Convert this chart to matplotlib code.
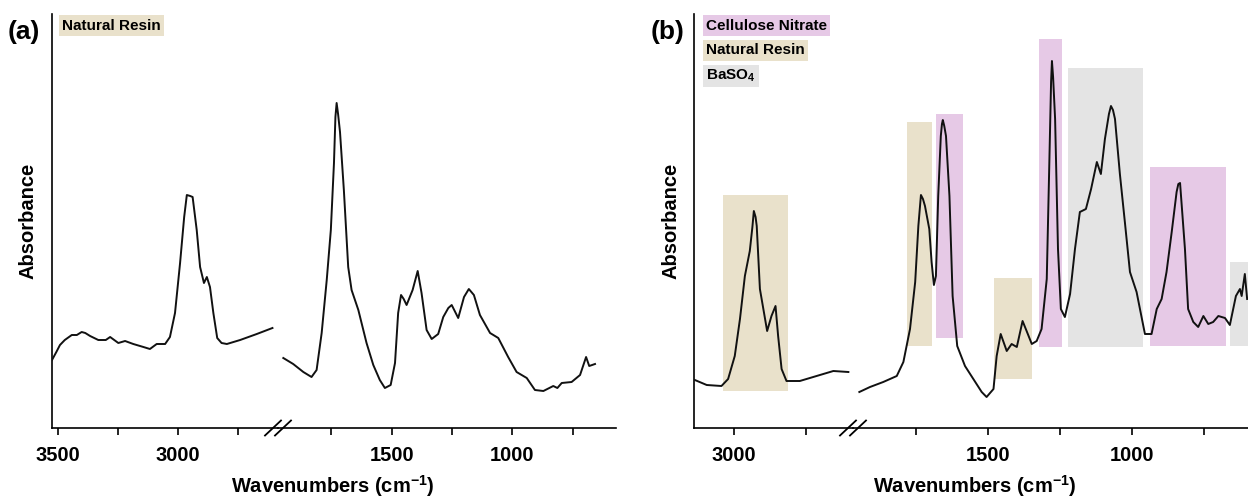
import numpy as np
import matplotlib
matplotlib.use("Agg")
import matplotlib.pyplot as plt
from matplotlib.patches import Rectangle
from matplotlib.ticker import MultipleLocator, NullLocator
from matplotlib.transforms import ScaledTranslation

plt.rcParams['font.family'] = ['Liberation Sans', 'DejaVu Sans']
plt.rcParams['font.weight'] = 'bold'
plt.rcParams['mathtext.fontset'] = 'custom'
plt.rcParams['mathtext.rm'] = 'Liberation Sans:bold'
plt.rcParams['mathtext.bf'] = 'Liberation Sans:bold'
plt.rcParams['mathtext.default'] = 'bf'

# ---- panel (a) spectrum (natural resin), absorbance in arbitrary units
a_wn_hi = [3523, 3505, 3490, 3470, 3441, 3420, 3400, 3385, 3365, 3331, 3300, 3282, 3248,
           3220, 3186, 3144, 3117, 3089, 3054, 3034, 3013, 2992, 2975, 2964, 2950, 2940,
           2923, 2909, 2893, 2881, 2868, 2854, 2838, 2820, 2798, 2743, 2674, 2609]
a_ab_hi = [72, 80, 87, 92, 97, 97, 100, 99, 96, 92, 92, 95, 89,
           91, 88, 85, 83, 88, 88, 95, 119, 169, 215, 237, 236, 235,
           202, 165, 149, 155, 145, 119, 94, 89, 88, 92, 98, 104]
a_wn_lo = [1949, 1908, 1866, 1832, 1811, 1790, 1769, 1752, 1739, 1733, 1728, 1722, 1714,
           1698, 1680, 1666, 1638, 1604, 1576, 1549, 1528, 1504, 1486, 1473, 1461, 1450,
           1438, 1413, 1392, 1376, 1355, 1334, 1307, 1286, 1265, 1251, 1224, 1200, 1180,
           1159, 1134, 1092, 1058, 1017, 982, 940, 906, 871, 830, 813, 795, 754, 719,
           694, 681, 657]
a_ab_lo = [74, 68, 60, 55, 62, 99, 152, 202, 269, 315, 329, 318, 300,
           242, 165, 142, 122, 89, 67, 52, 44, 47, 69, 119, 137, 133,
           127, 142, 161, 139, 102, 93, 98, 115, 124, 127, 114, 135, 143,
           137, 117, 99, 94, 75, 60, 54, 42, 41, 46, 44, 49, 50, 57,
           75, 66, 68]

# ---- panel (b) spectrum
b_wn_hi = [3135, 3094, 3043, 3020, 2997, 2979, 2962, 2945, 2936, 2931, 2925, 2921, 2910,
           2885, 2870, 2856, 2847, 2835, 2818, 2772, 2714, 2656, 2604]
b_ab_hi = [52, 47, 46, 53, 76, 113, 156, 181, 205, 221, 215, 206, 143,
           101, 116, 126, 96, 63, 51, 51, 56, 61, 60]
b_wn_lo = [1947, 1910, 1864, 1817, 1794, 1771, 1753, 1742, 1733, 1726, 1719, 1704, 1696,
           1688, 1681, 1673, 1664, 1660, 1657, 1652, 1646, 1634, 1623, 1607, 1580, 1551,
           1522, 1505, 1481, 1470, 1456, 1435, 1418, 1400, 1380, 1366, 1348, 1331, 1314,
           1296, 1287, 1281, 1278, 1274, 1267, 1257, 1247, 1233, 1215, 1198, 1181, 1160,
           1142, 1122, 1108, 1094, 1080, 1073, 1066, 1059, 1042, 1024, 1007, 984, 955,
           932, 914, 897, 880, 862, 845, 839, 833, 816, 805, 787, 770, 752, 735, 718,
           700, 677, 660, 639, 625, 619, 608, 600]
b_ab_lo = [40, 45, 50, 56, 70, 103, 150, 206, 237, 233, 226, 203, 170,
           147, 156, 236, 296, 308, 312, 306, 296, 236, 136, 86, 66, 53,
           40, 35, 43, 76, 98, 81, 88, 85, 111, 101, 88, 91, 103,
           153, 270, 350, 371, 355, 313, 183, 123, 115, 138, 183, 220, 223,
           243, 270, 258, 293, 318, 326, 322, 313, 258, 208, 160, 140, 98,
           98, 123, 133, 160, 200, 240, 248, 249, 183, 123,
           110, 105, 116, 108, 110, 116, 114, 107, 136, 143, 136, 158, 133]

# ---- highlighted bands in panel (b)
band_start = [3037, 1780, 1682, 1479, 1322, 1222, 937, 660]
band_end = [2812, 1695, 1588, 1348, 1243, 962, 674, 500]
band_bottom = [41, 86, 94, 53, 85, 85, 86, 86]
band_top = [237, 310, 318, 154, 393, 364, 265, 170]
band_kind = ['resin', 'resin', 'nitrate', 'resin', 'nitrate', 'baso4', 'nitrate', 'baso4']

colors = {'resin': '#e9e1cb', 'nitrate': '#e6c9e6', 'baso4': '#e4e4e4'}

W, H = 1248, 500
fig = plt.figure(figsize=(W / 100, H / 100), dpi=100)

def px_axes(x0, x1, y_top=14, y_bot=428):
    return fig.add_axes([x0 / W, 1 - y_bot / H, (x1 - x0) / W, (y_bot - y_top) / H])

def style(ax, xlim, left=True):
    ax.set_xlim(*xlim)
    ax.set_ylim(4, 418)
    for s in ['top', 'right']:
        ax.spines[s].set_visible(False)
    ax.spines['left'].set_visible(left)
    for s in ['left', 'bottom']:
        ax.spines[s].set_linewidth(1.2)
    ax.yaxis.set_major_locator(NullLocator())
    ax.xaxis.set_major_locator(MultipleLocator(500))
    ax.xaxis.set_minor_locator(MultipleLocator(250))
    ax.tick_params(axis='x', which='both', direction='out', length=5, width=1.2,
                   labelsize=14.5, pad=8)
    ax.patch.set_alpha(0)

def brk(ax):
    t = fig.dpi_scale_trans + ScaledTranslation(1, 0, ax.transAxes)
    for off in (-0.05, 0.05):
        ax.plot([off - 0.08, off + 0.08], [-0.075, 0.075], color='black', lw=1.3,
                transform=t, clip_on=False, zorder=5)

line_kw = dict(color='#111111', lw=1.4, zorder=3, solid_joinstyle='round')

# panel (a)
axa1 = px_axes(52, 278)
axa2 = px_axes(278, 616)
style(axa1, (3523, 2586))
style(axa2, (1971, 570), left=False)
axa1.plot(a_wn_hi, a_ab_hi, **line_kw)
axa2.plot(a_wn_lo, a_ab_lo, **line_kw)
brk(axa1)

# panel (b)
axb1 = px_axes(694, 853)
axb2 = px_axes(853, 1248)
style(axb1, (3138, 2588))
style(axb2, (1969, 597), left=False)
for s, e, b, t, k in zip(band_start, band_end, band_bottom, band_top, band_kind):
    for ax in (axb1, axb2):
        ax.add_patch(Rectangle((e, b), s - e, t - b, facecolor=colors[k],
                               edgecolor='none', zorder=1))
axb1.plot(b_wn_hi, b_ab_hi, **line_kw)
axb2.plot(b_wn_lo, b_ab_lo, **line_kw)
brk(axb1)

# labels
lab_kw = dict(fontsize=14.5, fontweight='bold', ha='center', va='center')
fig.text(333 / W, 1 - 486 / H, 'Wavenumbers (cm$^{-1}$)', **lab_kw)
fig.text(975 / W, 1 - 486 / H, 'Wavenumbers (cm$^{-1}$)', **lab_kw)
fig.text(28 / W, 1 - 221 / H, 'Absorbance', rotation=90, **lab_kw)
fig.text(671 / W, 1 - 221 / H, 'Absorbance', rotation=90, **lab_kw)
fig.text(8 / W, 1 - 32 / H, '(a)', fontsize=19, fontweight='bold', ha='left', va='center')
fig.text(651 / W, 1 - 32 / H, '(b)', fontsize=19, fontweight='bold', ha='left', va='center')

def tag(x, y, s, k):
    fig.text(x / W, 1 - y / H, s, fontsize=11, fontweight='bold', ha='left', va='center',
             bbox=dict(boxstyle='square,pad=0.2', facecolor=colors[k], edgecolor='none'))

tag(62, 25.5, 'Natural Resin', 'resin')
tag(706, 25.5, 'Cellulose Nitrate', 'nitrate')
tag(706, 50.5, 'Natural Resin', 'resin')
tag(706, 76, 'BaSO$_4$', 'baso4')

fig.savefig('out.png', dpi=100)
